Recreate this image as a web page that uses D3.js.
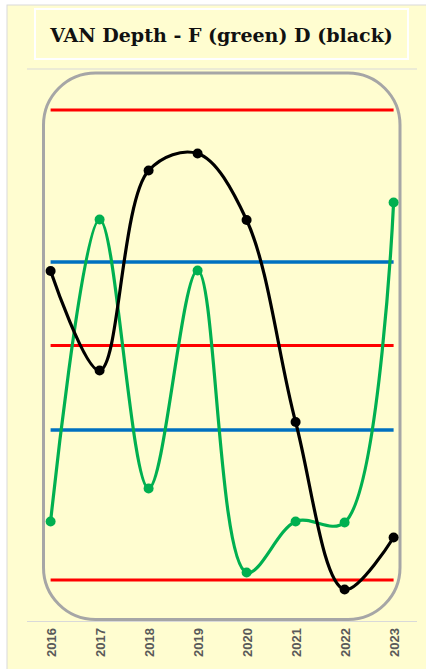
<!DOCTYPE html>
<html>
<head>
<meta charset="utf-8">
<script src="https://cdn.jsdelivr.net/npm/d3@7"></script>
<style>
  html, body { margin: 0; padding: 0; background: #ffffff; }
  svg { display: block; }
</style>
</head>
<body>
<script>
// ---- data ----
const years = ["2016", "2017", "2018", "2019", "2020", "2021", "2022", "2023"];
const depthD = [65.8, 45.9, 85.9, 89.3, 76.0, 35.6, 2.1, 12.5];   // black
const depthF = [15.7, 76.1, 22.3, 65.9, 5.5, 15.7, 15.5, 79.5];   // green
const redLevels = [98.0, 50.9, 4.0];
const blueLevels = [67.6, 34.0];
const title = "VAN Depth - F (green) D (black)";

const W = 426, H = 669;
const bg = "#FFFDD0";

const svg = d3.select("body").append("svg").attr("width", W).attr("height", H);

// frame
svg.append("rect").attr("x", 7).attr("y", 5).attr("width", W + 10).attr("height", H + 10)
  .attr("fill", bg).attr("stroke", "#D9D9D9").attr("stroke-width", 1);

// title box
svg.append("rect").attr("x", 35).attr("y", 9).attr("width", 373).attr("height", 50)
  .attr("fill", "none").attr("stroke", "#ffffff").attr("stroke-width", 2);
const t = svg.append("text").attr("x", 221.5).attr("y", 42)
  .attr("text-anchor", "middle")
  .attr("font-family", "'DejaVu Serif', serif").attr("font-weight", "bold")
  .attr("font-size", 19).attr("fill", "#111111").text(title);
const len = t.node().getComputedTextLength();
t.attr("font-size", 19 * 343 / len);

// dividers
[69, 621.5].forEach(y => svg.append("line").attr("x1", 27).attr("x2", 417)
  .attr("y1", y).attr("y2", y).attr("stroke", "#D9D9D9").attr("stroke-width", 1));

// plot area frame
svg.append("rect").attr("x", 43.5).attr("y", 73).attr("width", 356.5).attr("height", 546.5)
  .attr("rx", 52).attr("ry", 52)
  .attr("fill", "none").attr("stroke", "#A6A6A6").attr("stroke-width", 3);

// scales
const x = d3.scalePoint().domain(years).range([50.6, 393.6]);
const y = d3.scaleLinear().domain([0, 100]).range([600, 100]);

// control lines
const x0 = x(years[0]), x1 = x(years[years.length - 1]);
svg.selectAll(".red").data(redLevels).enter().append("line")
  .attr("x1", x0).attr("x2", x1).attr("y1", d => y(d)).attr("y2", d => y(d))
  .attr("stroke", "#FF0000").attr("stroke-width", 3);
svg.selectAll(".blue").data(blueLevels).enter().append("line")
  .attr("x1", x0).attr("x2", x1).attr("y1", d => y(d)).attr("y2", d => y(d))
  .attr("stroke", "#0070C0").attr("stroke-width", 3.5);

// series
const line = d3.line().x((d, i) => x(years[i])).y(d => y(d)).curve(d3.curveCatmullRom.alpha(0.5));
function series(vals, color, r) {
  svg.append("path").attr("d", line(vals)).attr("fill", "none")
    .attr("stroke", color).attr("stroke-width", 3.2);
  svg.append("g").selectAll("circle").data(vals).enter().append("circle")
    .attr("cx", (d, i) => x(years[i])).attr("cy", d => y(d)).attr("r", r).attr("fill", color);
}
series(depthF, "#00B050", 5);
series(depthD, "#000000", 5);

// x axis labels
const axis = d3.axisBottom(x).tickSize(0).tickPadding(0);
const gx = svg.append("g").attr("transform", "translate(0,628)").call(axis);
gx.select(".domain").remove();
gx.selectAll("text")
  .attr("transform", "rotate(-90)")
  .attr("x", 0).attr("y", 0).attr("dy", "0.36em")
  .attr("text-anchor", "end")
  .attr("font-family", "Arial, 'Liberation Sans', sans-serif")
  .attr("font-weight", "bold").attr("font-size", 13).attr("fill", "#595959");
</script>
</body>
</html>
